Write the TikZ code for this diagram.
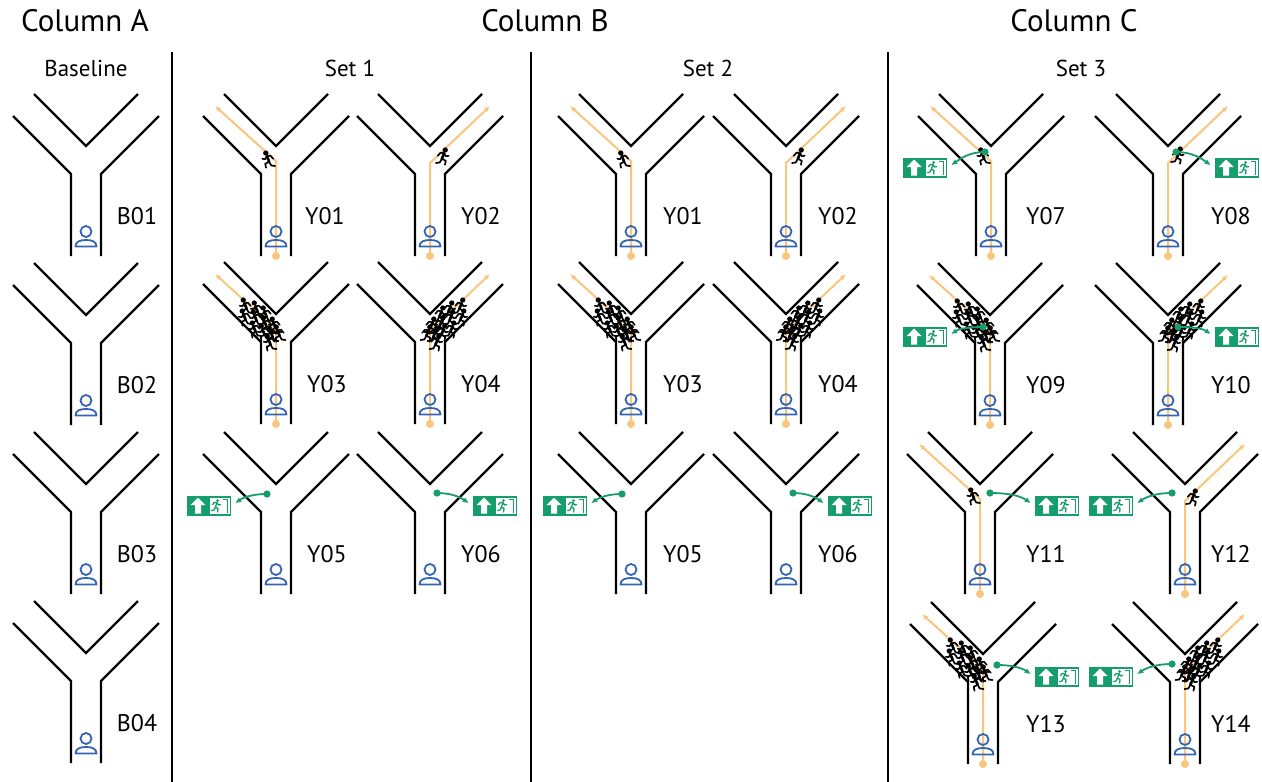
\documentclass[tikz,border=0pt]{standalone}
\usepackage{fontspec}
\setmainfont{PT Sans}
\usetikzlibrary{arrows.meta}

\definecolor{routeorange}{RGB}{250,197,125}
\definecolor{exitgreen}{RGB}{21,157,107}
\definecolor{iconblue}{RGB}{52,100,180}

% one face of an exit sign: up arrow on green, runner and door on a white panel
\newcommand{\signface}{%
  \fill[white] (-11,-8.5) -- (-18.5,-1) -- (-14,-1) -- (-14,7.5) -- (-8,7.5) -- (-8,-1) -- (-3.5,-1) -- cycle;
  \fill[white] (1,-8) rectangle (21,8);
  \fill[exitgreen] (8.6,-5.4) circle (1.5pt);
  \draw[exitgreen, line width=1.3pt, line cap=round, line join=round]
    (8,-3.4) -- (6.4,1) (3.4,-1.4) -- (5.4,-3.6) -- (8,-3.4) -- (9.6,-1) -- (11.6,-1.4)
    (6.4,1) -- (9,2.6) -- (8.6,6) (6.4,1) -- (5,4) -- (2.6,4.6);
  \draw[exitgreen, line width=1.3pt] (13.5,-6.5) -- (18.5,-6.5) -- (18.5,7);
}

\tikzset{
  wall/.style={line width=2.2pt, line cap=butt, line join=miter},
  divider/.style={line width=1.5pt},
  route/.style={routeorange, line width=2pt, -{Latex[length=6pt,width=5pt]}},
  exitlink/.style={exitgreen, line width=1.8pt, shorten >=5pt, -{Latex[length=6pt,width=5.5pt]}},
  tag/.style={font=\fontsize{24}{28}\selectfont, inner sep=0pt},
  heading/.style={font=\fontsize{31}{36}\selectfont, inner sep=0pt},
  subheading/.style={font=\fontsize{23}{27}\selectfont, inner sep=0pt},
  exitsign/.style={fill=exitgreen, minimum width=44pt, minimum height=20pt, inner sep=0pt},
  exitL/.style={exitsign, path picture={
    \begin{scope}[shift={(path picture bounding box.center)}]\signface\end{scope}}},
  exitR/.style={exitsign, path picture={
    \begin{scope}[shift={(path picture bounding box.center)}, xscale=-1]\signface\end{scope}}},
  occupant/.pic={
    \draw[iconblue, line width=1.8pt] (0,-24.5) circle (5.5pt);
    \draw[iconblue, line width=1.8pt, line join=round]
      (-10.5,-9.5) .. controls (-10.5,-14.5) and (-6,-16) .. (0,-16)
      .. controls (6,-16) and (10.5,-14.5) .. (10.5,-9.5) -- cycle;
  },
  walker/.pic={
    \begin{scope}[scale=1.25]
    \fill (1.8,-5.6) circle (2.1pt);
    \draw[line width=2.7pt, line cap=round] (0.9,-3.0) -- (-0.9,1.4);
    \draw[line width=1.6pt, line cap=round, line join=round]
      (-4.2,-1.0) -- (-2.0,-3.4) -- (0.9,-3.0) -- (2.4,-0.6) -- (4.6,-1.0);
    \draw[line width=1.7pt, line cap=round, line join=round]
      (-0.9,1.4) -- (2.2,3.0) -- (1.6,6.2) (-0.9,1.4) -- (-2.6,4.4) -- (-5.6,4.8);
    \end{scope}
  },
}

% corridor junction: stem centre x, stem bottom y, label x, label
\newcommand{\junction}[4]{%
  \begin{scope}[shift={(#1,#2)}]
    \draw[wall] (-15,0) -- (-15,-82) -- (-73,-140);
    \draw[wall] (15,0) -- (15,-82) -- (73,-140);
    \draw[wall] (-52,-162) -- (0,-110) -- (52,-162);
  \end{scope}
  \node[tag] (tag-#4-#1) at (#3,#2-40) {#4};
}
\newcommand{\occupant}[2]{\pic at (#1,#2) {occupant};}
\newcommand{\routeleft}[2]{%
  \coordinate (r0) at (#1,#2);
  \coordinate (r1) at (#1,#2-95);
  \coordinate (r2) at (#1-61,#2-150);
  \fill[routeorange] (r0) circle (4pt);
  \draw[route] (r0) -- (r1) -- (r2);}
\newcommand{\routeright}[2]{%
  \coordinate (r0) at (#1,#2);
  \coordinate (r1) at (#1,#2-93);
  \coordinate (r2) at (#1+60,#2-150);
  \fill[routeorange] (r0) circle (4pt);
  \draw[route] (r0) -- (r1) -- (r2);}
\newcommand{\runner}[3]{\pic[xscale=#3] at (#1,#2) {walker};}
\newcommand{\crowdleft}[2]{%
  \foreach \ta/\sa in {24/1,19/-5,17/5,13/0,10/7,8/-6,5/2,2/-3,0/6,-3/0,-6/4,-6/-5}
    {\pic[xscale=-1] at ({#1-7.5-\ta+\sa},{#2-92-\ta-\sa}) {walker};}}
\newcommand{\crowdright}[2]{%
  \foreach \ta/\sa in {24/1,19/-5,17/5,13/0,10/7,8/-6,5/2,2/-3,0/6,-3/0,-6/4,-6/-5}
    {\pic at ({#1+7.5+\ta-\sa},{#2-92-\ta-\sa}) {walker};}}
% exit sign with a link from the decision point: name, dot x, dot y, sign x, sign y
\newcommand{\exitleft}[5]{%
  \node[exitL] (#1) at (#4,#5) {};
  \coordinate (#1-dot) at (#2,#3);
  \fill[exitgreen] (#1-dot) circle (3.6pt);
  \draw[exitlink] (#1-dot) to[out=180,in=35] (#1.east);}
\newcommand{\exitright}[5]{%
  \node[exitR] (#1) at (#4,#5) {};
  \coordinate (#1-dot) at (#2,#3);
  \fill[exitgreen] (#1-dot) circle (3.6pt);
  \draw[exitlink] (#1-dot) to[out=0,in=145] (#1.west);}

\begin{document}
\begin{tikzpicture}[x=1pt,y=-1pt]
\useasboundingbox (0,0) rectangle (1262,782);
\fill[white] (0,0) rectangle (1262,782);

% headings
\node[heading] (colA) at (85,21) {Column A};
\node[heading] (colB) at (545,21) {Column B};
\node[heading] (colC) at (1074,21) {Column C};
\node[subheading] (base) at (86,68) {Baseline};
\node[subheading] (set1) at (350,68) {Set 1};
\node[subheading] (set2) at (708,68) {Set 2};
\node[subheading] (set3) at (1081,68) {Set 3};

% column separators
\draw[divider] (172,52) -- (172,782);
\draw[divider] (531,52) -- (531,782);
\draw[divider] (888,52) -- (888,782);

% Column A: baseline
\junction{86}{256}{137}{B01} \occupant{86}{256}
\junction{86}{425}{137}{B02} \occupant{86}{425}
\junction{86}{594}{137}{B03} \occupant{86}{594}
\junction{86}{763}{137}{B04} \occupant{86}{763}

% Set 1
\junction{276}{256}{325}{Y01} \routeleft{276}{256} \occupant{276}{256} \runner{268}{160}{-1}
\junction{430}{256}{481}{Y02} \routeright{430}{256} \occupant{430}{256} \runner{443}{157}{1}
\junction{276}{424}{327}{Y03} \routeleft{276}{424} \occupant{276}{424} \crowdleft{276}{424}
\junction{430}{424}{481}{Y04} \routeright{430}{424} \occupant{430}{424} \crowdright{430}{424}
\junction{276}{594}{327}{Y05} \occupant{276}{594} \exitleft{s1e5}{267}{494}{209}{506}
\junction{430}{594}{481}{Y06} \occupant{430}{594} \exitright{s1e6}{437}{493}{495}{506}

% Set 2
\junction{631}{256}{683}{Y01} \routeleft{631}{256} \occupant{631}{256} \runner{623}{160}{-1}
\junction{786}{256}{838}{Y02} \routeright{786}{256} \occupant{786}{256} \runner{799}{157}{1}
\junction{631}{424}{683}{Y03} \routeleft{631}{424} \occupant{631}{424} \crowdleft{631}{424}
\junction{786}{424}{838}{Y04} \routeright{786}{424} \occupant{786}{424} \crowdright{786}{424}
\junction{631}{594}{683}{Y05} \occupant{631}{594} \exitleft{s2e5}{622}{494}{565}{506}
\junction{786}{594}{838}{Y06} \occupant{786}{594} \exitright{s2e6}{793}{493}{850}{506}

% Set 3
\junction{991}{256}{1046}{Y07} \routeleft{991}{256} \occupant{991}{256} \runner{983}{157}{-1}
  \exitleft{s3e7}{985}{152}{925}{168}
\junction{1168}{256}{1231}{Y08} \routeright{1168}{256} \occupant{1168}{256} \runner{1178}{156}{1}
  \exitright{s3e8}{1176}{152}{1237}{168}
\junction{990}{425}{1046}{Y09} \routeleft{990}{425} \occupant{990}{425} \crowdleft{990}{425}
  \exitleft{s3e9}{983}{327}{925}{337}
\junction{1168}{425}{1231}{Y10} \routeright{1168}{425} \occupant{1168}{425} \crowdright{1168}{425}
  \exitright{s3e10}{1178}{327}{1237}{337}
\junction{980}{594}{1046}{Y11} \routeleft{980}{594} \occupant{980}{594} \runner{973}{497}{-1}
  \exitright{s3e11}{990}{493}{1057}{506}
\junction{1185}{594}{1231}{Y12} \routeright{1185}{594} \occupant{1185}{594} \runner{1193}{498}{1}
  \exitleft{s3e12}{1172}{493}{1111}{506}
\junction{983}{764}{1046}{Y13} \routeleft{983}{764} \occupant{983}{764} \crowdleft{983}{764}
  \exitright{s3e13}{997}{665}{1057}{677}
\junction{1185}{764}{1231}{Y14} \routeright{1185}{764} \occupant{1185}{764} \crowdright{1185}{764}
  \exitleft{s3e14}{1172}{664}{1111}{677}
\end{tikzpicture}
\end{document}
